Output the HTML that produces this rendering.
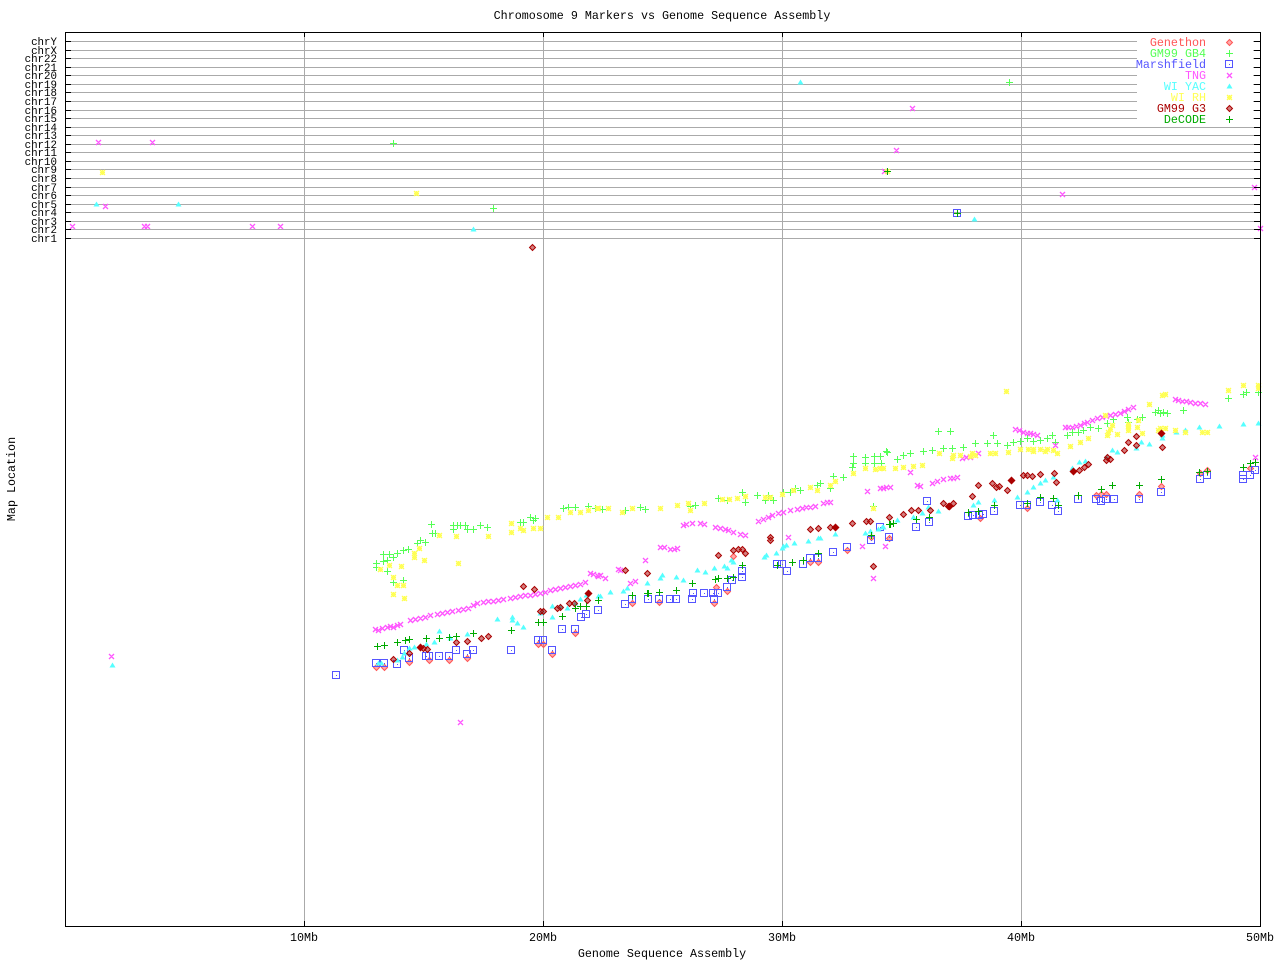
<!DOCTYPE html>
<html><head><meta charset="utf-8"><style>
html,body{margin:0;padding:0;background:#fff;}
svg{display:block;}
text{font-family:"Liberation Mono",monospace;font-size:11.7px;fill:#000;}
#labels text.yl{font-size:10.8px;}
</style></head><body>
<svg id="c" width="1280" height="960" viewBox="0 0 1280 960" xmlns="http://www.w3.org/2000/svg">
<rect width="1280" height="960" fill="#fff"/>
<g id="grid" shape-rendering="crispEdges"></g>
<g id="data"></g>
<rect x="1137" y="35" width="116" height="89" fill="#fff"/>
<g id="legend"></g>
<g id="axes" shape-rendering="crispEdges"></g>
<text x="662" y="19" text-anchor="middle">Chromosome 9 Markers vs Genome Sequence Assembly</text>
<text x="662" y="957" text-anchor="middle">Genome Sequence Assembly</text>
<text transform="translate(15,479) rotate(-90)" text-anchor="middle">Map Location</text>
<g id="labels"></g>
</svg>
<script>
(function(){
var NS="http://www.w3.org/2000/svg";
function el(parent,tag,attrs,txt){var e=document.createElementNS(NS,tag);for(var k in attrs)e.setAttribute(k,attrs[k]);if(txt!==undefined)e.textContent=txt;document.getElementById(parent).appendChild(e);return e;}
var chrs=["chrY","chrX","chr22","chr21","chr20","chr19","chr18","chr17","chr16","chr15","chr14","chr13","chr12","chr11","chr10","chr9","chr8","chr7","chr6","chr5","chr4","chr3","chr2","chr1"];
var g="",t="";
for(var i=0;i<chrs.length;i++){
 var y=Math.round(41+i*(197/23));
 g+="M66 "+(y+.5)+"H1260";
 t+="M66 "+(y+.5)+"h5M1254 "+(y+.5)+"h6";
 el("labels","text",{x:57,y:y+4,"text-anchor":"end","class":"yl"},chrs[i]);
}
var xs=[304,543,782,1021];
for(var j=0;j<xs.length;j++){g+="M"+(xs[j]+.5)+" 32V926";t+="M"+(xs[j]+.5)+" 32v5M"+(xs[j]+.5)+" 926v-5";}
el("grid","path",{d:g,stroke:"#aaaaaa","stroke-width":1,fill:"none"});
el("axes","path",{d:t,stroke:"#000","stroke-width":1,fill:"none"});
el("axes","rect",{x:65.5,y:32.5,width:1195,height:894,fill:"none",stroke:"#000","stroke-width":1});
var xl=[["10Mb",304],["20Mb",543],["30Mb",782],["40Mb",1021],["50Mb",1260]];
for(var k=0;k<xl.length;k++)el("labels","text",{x:xl[k][1],y:941,"text-anchor":"middle"},xl[k][0]);

var M={
 plus:function(x,y){return "M"+(x-3)+" "+(y+.5)+"h7M"+(x+.5)+" "+(y-3)+"v7";},
 x:function(x,y){return "M"+(x-2)+" "+(y-2)+"l5 5M"+(x+3)+" "+(y-2)+"l-5 5";},
 star:function(x,y){return "M"+(x-2)+" "+(y+.5)+"h5M"+(x+.5)+" "+(y-2)+"v5M"+(x-2)+" "+(y-2)+"l5 5M"+(x+3)+" "+(y-2)+"l-5 5";},
 sq:function(x,y){return "M"+(x-3.5)+" "+(y-3.5)+"h7v7h-7zM"+x+" "+(y+.5)+"h1";},
 dia:function(x,y){return "M"+(x+.5)+" "+(y-2.5)+"l3 3l-3 3l-3 -3z";},
 tri:function(x,y){return "M"+(x-2.5)+" "+(y+2.5)+"h6l-3 -5z";},
 fdia:function(x,y){return "M"+(x+.5)+" "+(y-3.5)+"l4 4l-4 4l-4 -4z";}
};
function series(parent,pts,shape,color,fill,sw,semi){
 var d="";for(var i=0;i<pts.length;i+=2)d+=M[shape](pts[i],pts[i+1]);
 if(fill)el(parent,"path",{d:d,fill:color,stroke:"none"});
 else el(parent,"path",{d:d,fill:semi?color:"none","fill-opacity":semi?0.5:1,stroke:color,"stroke-width":sw||1});
}
var GEN=[376,667,384,667,409,662,429,660,449,660,467,658,538,644,543,644,552,654,575,633,632,603,659,602,714,603,727,591,733,556,716,587,810,562,818,562,847,550,871,537,889,538,980,518,1027,508,1096,495,1101,494,1106,494,1139,494,1161,486,1200,473,1207,470,1250,468];
var GB4=[376,563,376,567,383,554,383,561,387,560,389,554,393,557,397,553,403,550,408,549,417,543,420,540,425,542,431,524,432,533,435,533,453,525,453,529,457,525,460,525,465,525,467,529,473,529,480,525,487,527,387,571,393,582,403,580,520,522,523,522,530,517,533,520,535,518,563,508,568,507,575,507,588,506,595,508,
602,509,625,510,640,507,645,509,690,506,695,505,718,498,727,500,742,492,745,502,757,495,765,500,768,495,773,500,783,492,790,492,795,488,800,490,817,485,820,483,830,488,833,476,843,477,852,467,853,456,853,463,865,457,865,463,874,456,874,463,880,456,881,463,887,452,873,506,
938,431,950,431,886,451,897,459,903,455,910,453,923,451,932,450,943,448,952,448,963,447,975,443,987,443,993,435,997,443,1007,445,1013,442,1020,441,1027,438,1033,441,1040,440,1047,438,1052,435,1055,442,1067,435,1072,432,1078,432,1083,430,1090,427,1098,428,1107,423,1113,419,1127,417,1128,422,1137,419,1142,417,1155,412,1158,410,1160,413,1163,412,1167,413,1183,410,1228,398,1243,394,1246,392,1258,392,
393,143,493,208,1009,82,887,171];
var MAR=[376,663,384,663,397,664,404,650,409,658,426,656,429,656,439,656,449,656,456,650,467,654,473,650,511,650,538,640,543,640,552,650,562,629,575,629,581,617,586,614,598,610,
625,604,632,599,648,599,659,599,670,599,676,599,692,599,693,593,704,593,713,593,718,593,714,599,727,587,732,580,742,577,742,571,777,564,782,564,787,571,803,564,810,558,818,558,833,552,847,547,871,540,889,537,
880,527,916,527,927,501,929,522,968,516,973,515,979,515,983,514,994,511,1020,505,1027,505,1040,502,1052,505,1058,511,1078,499,1096,499,1101,501,1106,499,1114,499,1139,499,1161,492,1200,479,1207,475,1243,475,1243,479,1250,475,1255,470,
336,675,957,213];
var TNG=[375,629,382,628,387,627,393,627,397,625,410,620,425,617,430,615,437,614,447,612,452,611,468,608,477,603,483,602,493,601,503,599,510,598,520,596,530,595,540,593,550,590,560,588,570,586,580,584,590,573,597,575,
378,630,390,626,400,624,415,619,420,618,442,613,458,610,463,609,473,605,488,601,498,600,515,597,525,595,535,594,545,592,555,589,565,587,575,585,585,582,600,575,620,570,
593,574,598,576,605,578,618,569,630,583,635,581,645,560,660,547,670,549,677,548,683,525,700,523,720,528,733,532,745,535,763,519,772,515,778,513,802,508,810,507,823,503,830,502,788,537,862,546,885,546,873,578,867,491,880,488,
664,547,674,549,686,524,692,523,704,524,715,527,725,529,728,530,740,534,758,521,768,517,783,512,790,510,797,509,806,507,815,506,827,502,
883,488,890,487,910,472,917,485,932,483,943,479,950,478,957,477,962,458,970,457,978,453,1015,429,1023,432,1030,433,1037,435,1055,445,1065,427,1072,427,1080,425,1087,422,1097,418,1102,417,1110,415,1120,413,1128,409,1133,407,1175,399,1182,401,1190,402,1200,403,1205,404,1255,457,
886,487,920,486,937,481,953,478,966,457,975,455,1019,430,1027,433,1033,434,1068,427,1076,426,1084,423,1092,420,1106,416,1115,414,1124,411,1178,400,1186,401,1195,403,
72,226,98,142,152,142,105,206,144,226,147,226,252,226,280,226,912,108,896,150,884,171,1062,194,1254,187,1260,228,111,656,460,722];
var YAC=[378,663,381,663,397,660,402,657,404,653,409,648,414,647,426,644,434,642,439,631,450,638,467,634,497,619,512,620,512,617,517,623,523,627,540,613,542,611,552,606,552,617,560,606,567,608,575,603,580,599,586,595,598,596,
600,596,610,592,623,591,627,588,647,583,660,578,662,575,676,577,683,580,697,570,705,572,714,568,724,566,727,568,731,560,733,562,764,557,766,555,776,553,782,548,783,546,786,545,794,543,808,541,818,538,820,538,835,534,865,533,870,531,878,529,883,527,
882,527,897,520,913,517,922,513,928,507,938,511,973,505,978,502,994,500,1017,497,1027,492,1033,487,1040,483,1045,480,1053,477,1057,500,1072,468,1079,462,1085,461,1106,457,1112,450,1117,452,1136,448,1141,442,1149,444,1162,438,1162,435,1176,432,1185,430,1199,427,1219,426,1243,424,1258,423,
96,204,178,204,473,229,800,82,974,219,112,665];
var RH=[380,569,389,565,401,566,414,553,414,557,419,548,424,560,439,535,456,536,458,563,488,536,393,577,397,585,403,585,393,594,404,598,511,523,511,532,520,528,523,530,533,528,540,528,547,517,558,517,570,512,580,512,588,510,598,508,
597,508,608,508,622,512,632,508,660,508,677,505,688,503,690,510,704,503,722,499,729,499,737,498,745,496,765,497,770,497,782,494,793,490,810,487,817,490,830,485,835,481,853,473,865,468,875,469,883,468,873,508,
880,468,895,468,903,467,913,466,922,465,939,453,952,458,953,455,970,456,972,453,990,453,995,453,1008,452,1020,449,1028,449,1033,449,1040,449,1047,449,1053,450,1057,453,1070,446,1080,442,1088,438,1107,435,1110,429,1112,425,1117,434,1128,427,1137,427,1142,433,1158,430,1165,428,1175,430,1185,432,1202,432,1207,432,1149,404,1162,395,1165,394,1228,390,1243,385,1258,385,1258,388,1006,391,1105,415,1138,420,
1128,430,1128,424,1160,428,1033,451,1045,451,975,455,960,455,1108,432,
102,172,416,193,887,171];
var G3=[393,659,409,653,420,647,423,648,427,649,456,642,467,641,481,638,488,636,523,586,534,589,540,611,543,611,557,608,560,607,569,603,574,603,587,600,588,593,
625,570,647,573,718,555,733,550,738,549,742,549,745,553,770,537,770,540,810,529,818,528,830,527,835,527,852,523,866,521,870,521,889,517,873,566,
903,514,911,510,918,510,930,510,943,503,948,506,953,503,972,496,978,485,992,483,996,487,999,486,1007,490,1011,480,1023,475,1027,475,1032,476,1040,474,1054,473,1056,482,1073,471,1079,470,1084,467,1088,464,1107,457,1110,459,1106,460,1124,450,1128,442,1136,445,1136,436,1161,433,1162,447,
532,247];
var G3F=[420,647,588,593,835,527,949,506,1011,480,1073,471,1161,433];
var DEC=[377,646,384,645,397,642,405,640,409,639,426,638,439,638,449,637,456,636,473,633,511,630,538,622,543,622,562,616,575,608,580,606,586,606,598,600,
632,595,647,593,648,593,659,592,676,590,692,583,715,579,718,578,727,578,733,577,742,565,777,565,792,562,803,560,818,553,871,535,889,524,
890,524,893,523,916,519,929,517,968,512,978,511,994,505,1027,503,1040,497,1053,498,1058,505,1078,495,1101,489,1112,485,1139,485,1161,479,1199,472,1207,471,1243,467,1250,463,1255,462,
957,213,887,171];
series("data",GEN,"dia","#ff5555",false,1,true);
series("data",GB4,"plus","#55ff55");
series("data",MAR,"sq","#5555ff");
series("data",TNG,"x","#ff55ff",false,1.3);
series("data",YAC,"tri","#55ffff",true);
series("data",RH,"star","#ffff55",false,1.3);
series("data",G3,"dia","#aa0000",false,1,true);
series("data",G3F,"fdia","#aa0000",true);
series("data",DEC,"plus","#00aa00");

var leg=[["Genethon","dia","#ff5555",0,1,1],["GM99 GB4","plus","#55ff55"],["Marshfield","sq","#5555ff"],["TNG","x","#ff55ff",0,1.3],["WI YAC","tri","#55ffff",1],["WI RH","star","#ffff55",0,1.3],["GM99 G3","dia","#aa0000",0,1,1],["DeCODE","plus","#00aa00"]];
for(var n=0;n<leg.length;n++){
 var ly=42+n*11;
 el("legend","text",{x:1206,y:ly+4,"text-anchor":"end",style:"fill:"+leg[n][2]},leg[n][0]);
 series("legend",[1229,ly],leg[n][1],leg[n][2],leg[n][3],leg[n][4],leg[n][5]);
}
})();
</script>
</body></html>
